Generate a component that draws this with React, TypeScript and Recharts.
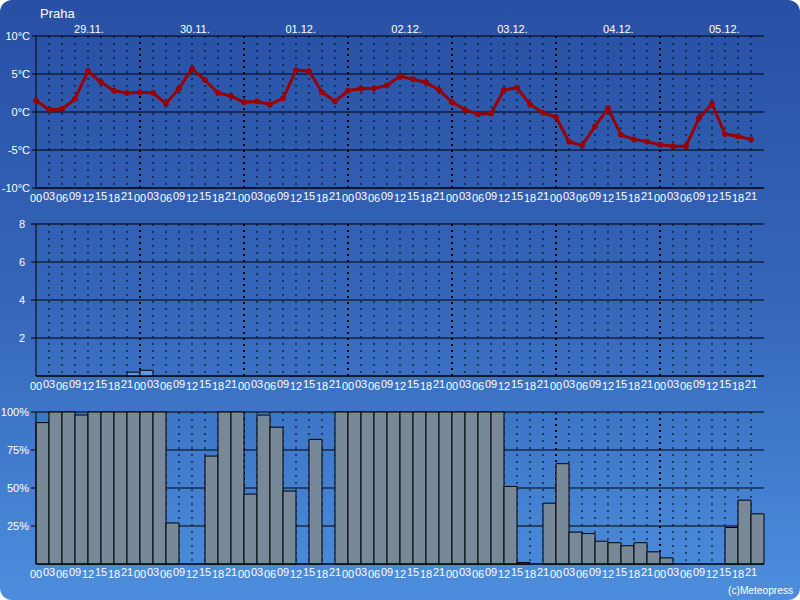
import { Bar, BarChart, CartesianGrid, Line, LineChart, XAxis, YAxis } from "recharts";

const DAYS = ["29.11.", "30.11.", "01.12.", "02.12.", "03.12.", "04.12.", "05.12."];
const HOURS = ["00", "03", "06", "09", "12", "15", "18", "21"];

// 3-hourly steps, 29.11. 00h .. 05.12. 21h
const TEMPERATURE = [
  1.5, 0.3, 0.4, 1.7, 5.4, 3.9, 2.8, 2.5, 2.6, 2.5, 1.1, 3.1, 5.7, 4.2, 2.5, 2.1, 1.3, 1.4, 1.0, 1.8,
  5.5, 5.4, 2.6, 1.4, 2.8, 3.1, 3.1, 3.5, 4.7, 4.3, 3.9, 2.9, 1.3, 0.3, -0.3, -0.2, 2.9, 3.2, 1.0, -0.1,
  -0.7, -3.9, -4.4, -1.9, 0.5, -3.0, -3.6, -3.9, -4.3, -4.5, -4.5, -0.8, 1.1, -2.9, -3.2, -3.6,
];
const PRECIPITATION = [
  0, 0, 0, 0, 0, 0, 0, 0.2, 0.3, 0, 0, 0, 0, 0, 0, 0, 0, 0, 0, 0,
  0, 0, 0, 0, 0, 0, 0, 0, 0, 0, 0, 0, 0, 0, 0, 0, 0, 0, 0, 0,
  0, 0, 0, 0, 0, 0, 0, 0, 0, 0, 0, 0, 0, 0, 0, 0,
];
const CLOUD_COVER = [
  93, 100, 100, 98, 100, 100, 100, 100, 100, 100, 27, 0, 0, 71, 100, 100, 46, 98, 90, 48,
  0, 82, 0, 100, 100, 100, 100, 100, 100, 100, 100, 100, 100, 100, 100, 100, 51, 1, 0, 40,
  66, 21, 20, 15, 14, 12, 14, 8, 4, 0, 0, 0, 0, 24, 42, 33,
];

const TEMP_TICKS = [-10, -5, 0, 5, 10];
const PRECIP_TICKS = [2, 4, 6, 8];
const CLOUD_TICKS = [25, 50, 75, 100];

const SLOTS = TEMPERATURE.length;
const SLOT_TICKS = TEMPERATURE.map((_, i) => i);
const DAY_TICKS = DAYS.map((_, d) => d * HOURS.length + HOURS.length / 2);

const rows = TEMPERATURE.map((temp, t) => ({
  t,
  slot: String(t),
  temp,
  precip: PRECIPITATION[t],
  cloud: CLOUD_COVER[t],
}));

const FONT = '"Liberation Sans", Arial, sans-serif';
const WHITE = "#ffffff";

function HourTick({ x, y, payload }: any) {
  const h = payload.value % HOURS.length;
  return (
    <text x={x} y={y + (h % 2 === 0 ? 12 : 9.5)} textAnchor="middle" fill={WHITE} fontSize={11} fontFamily={FONT}>
      {HOURS[h]}
    </text>
  );
}

function DayTick({ x, y, payload }: any) {
  const d = Math.floor(payload.value / HOURS.length);
  return (
    <text x={x} y={y - 1} textAnchor="middle" fill={WHITE} fontSize={11} fontFamily={FONT}>
      {DAYS[d]}
    </text>
  );
}

// dotted verticals every 3h, heavier at midnight; none on the axis / right edge
function SlotLine(props: any) {
  const { x1, y1, x2, y2, x, width } = props;
  const slot = Math.round(((x1 - x) / width) * SLOTS);
  if (slot <= 0 || slot >= SLOTS) return <g key={props.key} />;
  const midnight = slot % HOURS.length === 0;
  return (
    <line
      key={props.key}
      x1={x1}
      y1={y1}
      x2={x2}
      y2={y2}
      stroke="#000"
      strokeWidth={midnight ? 2 : 1}
      strokeDasharray={midnight ? "2 4" : "2 5"}
    />
  );
}

const hourAxis = {
  dataKey: "t",
  type: "number" as const,
  domain: [0, SLOTS],
  ticks: SLOT_TICKS,
  interval: 0,
  tick: HourTick,
  tickLine: false,
  tickSize: 0,
  axisLine: { stroke: "#000" },
  height: 17,
};

const yTick = { fill: WHITE, fontSize: 11, fontFamily: FONT };

export default function App() {
  return (
    <div style={{ position: "fixed", left: 0, top: 0, width: 800, height: 600, background: "#fff", fontFamily: FONT }}>
      <div
        style={{
          position: "absolute",
          inset: 0,
          borderRadius: 12,
          background: "linear-gradient(to bottom, #2850a5 0%, #3566b9 50%, #4c8edd 100%)",
        }}
      />
      <div style={{ position: "absolute", left: 40, top: 6, color: WHITE, fontSize: 13 }}>Praha</div>

      <div style={{ position: "absolute", left: 0, top: 0 }}>
        <LineChart width={800} height={205} data={rows} margin={{ top: 16, right: 36, bottom: 0, left: 0 }}>
          <CartesianGrid stroke="#000" strokeOpacity={1} vertical={SlotLine} />
          <XAxis {...hourAxis} />
          <XAxis
            xAxisId="day"
            orientation="top"
            type="number"
            domain={[0, SLOTS]}
            ticks={DAY_TICKS}
            interval={0}
            tick={DayTick}
            tickLine={false}
            tickSize={0}
            axisLine={false}
            height={20}
          />
          <YAxis
            domain={[-10, 10]}
            ticks={TEMP_TICKS}
            tickFormatter={(v: number) => `${v}°C`}
            width={36}
            tick={yTick}
            tickSize={4}
            tickMargin={2}
            tickLine={{ stroke: "#000" }}
            axisLine={{ stroke: "#000" }}
          />
          <Line
            dataKey="temp"
            stroke="#990000"
            strokeWidth={3}
            dot={{ r: 2.5, fill: "#990000", stroke: "#990000", strokeWidth: 1 }}
            isAnimationActive={false}
          />
        </LineChart>
      </div>

      <div style={{ position: "absolute", left: 0, top: 205 }}>
        <BarChart width={800} height={188} data={rows} barCategoryGap={0} barGap={0} margin={{ top: 19, right: 36, bottom: 0, left: 0 }}>
          <CartesianGrid stroke="#000" strokeOpacity={1} vertical={SlotLine} />
          <XAxis xAxisId="slot" dataKey="slot" type="category" hide />
          <XAxis {...hourAxis} />
          <YAxis
            domain={[0, 8]}
            ticks={PRECIP_TICKS}
            width={36}
            tick={yTick}
            tickSize={5}
            tickMargin={6}
            tickLine={{ stroke: "#000" }}
            axisLine={{ stroke: "#000" }}
          />
          <Bar xAxisId="slot" dataKey="precip" fill="#6495ed" stroke="#000" strokeWidth={1} isAnimationActive={false} />
        </BarChart>
      </div>

      <div style={{ position: "absolute", left: 0, top: 393 }}>
        <BarChart width={800} height={188} data={rows} barCategoryGap={0} barGap={0} margin={{ top: 19, right: 36, bottom: 0, left: 0 }}>
          <CartesianGrid stroke="#000" strokeOpacity={1} vertical={SlotLine} />
          <XAxis xAxisId="slot" dataKey="slot" type="category" hide />
          <XAxis {...hourAxis} />
          <YAxis
            domain={[0, 100]}
            ticks={CLOUD_TICKS}
            tickFormatter={(v: number) => `${v}%`}
            width={36}
            tick={yTick}
            tickSize={5}
            tickMargin={2}
            tickLine={{ stroke: "#000" }}
            axisLine={{ stroke: "#000" }}
          />
          <Bar xAxisId="slot" dataKey="cloud" fill="#778899" stroke="#000" strokeWidth={1} isAnimationActive={false} />
        </BarChart>
      </div>

      <div style={{ position: "absolute", left: 728, top: 585, color: WHITE, fontSize: 10.2 }}>(c)Meteopress</div>
    </div>
  );
}
